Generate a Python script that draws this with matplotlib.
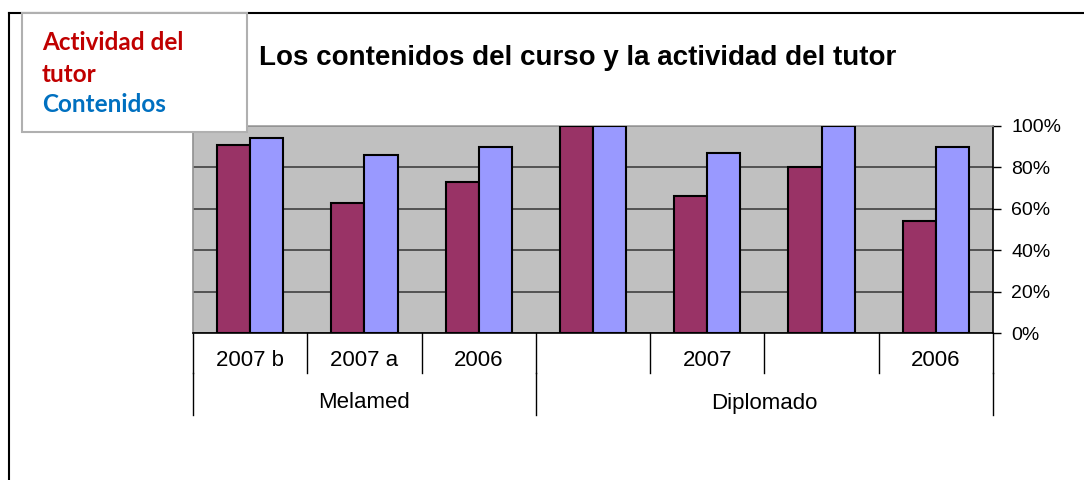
import numpy as np
import matplotlib.pyplot as plt
from matplotlib.patches import Rectangle
from matplotlib.lines import Line2D
from matplotlib.ticker import PercentFormatter

plt.rcParams['font.family'] = ['Liberation Sans', 'DejaVu Sans']

# data
years = ['2007 b', '2007 a', '2006', '', '2007', '', '2006']
programs = ['Melamed', 'Diplomado']
program_sizes = [3, 4]
actividad = [91, 63, 73, 100, 66, 80, 54]
contenidos = [94, 86, 90, 100, 87, 100, 90]

W, H = 1084, 480
fig = plt.figure(figsize=(W / 100, H / 100), dpi=100)

# plot area in pixels: left 193, right 993, top 126, bottom 333
ax = fig.add_axes([193 / W, (H - 333) / H, 800 / W, 207 / H])
ax.set_facecolor('#C0C0C0')

x = np.arange(len(years))
bw = 0.29
ax.bar(x - bw / 2, actividad, bw, color='#993366', edgecolor='black', linewidth=1.5, zorder=3)
ax.bar(x + bw / 2, contenidos, bw, color='#9999FF', edgecolor='black', linewidth=1.5, zorder=3)

ax.set_xlim(-0.5, len(years) - 0.5)
ax.set_ylim(0, 100)
ax.set_yticks(np.arange(0, 101, 20))
ax.yaxis.set_major_formatter(PercentFormatter(decimals=0))
ax.yaxis.tick_right()
ax.tick_params(axis='y', direction='out', length=6, width=1, pad=7, labelsize=14, colors='black')
ax.set_xticks([])
ax.grid(axis='y', color='#404040', linewidth=1.2, zorder=1)
ax.set_axisbelow(True)

ax.spines['left'].set_color('#909090')
ax.spines['top'].set_color('#A0A0A0')
ax.spines['right'].set_color('black')
ax.spines['bottom'].set_color('black')
for s in ax.spines.values():
    s.set_linewidth(1.2)

# multi-level category axis below the plot
trans = ax.get_xaxis_transform()
row1 = -40 / 207   # bottom of first label row (axes fraction)
row2 = -82 / 207
for b in np.arange(-0.5, len(years)):
    ax.add_line(Line2D([b, b], [0, row1], transform=trans, color='black', lw=1, clip_on=False))
for i, lab in enumerate(years):
    ax.text(i, -27 / 207, lab, transform=trans, ha='center', va='center', fontsize=16)
start = 0
edges = [-0.5]
for name, n in zip(programs, program_sizes):
    ax.text(start + (n - 1) / 2, -70 / 207, name, transform=trans, ha='center', va='center', fontsize=16)
    start += n
    edges.append(start - 0.5)
for b in edges:
    ax.add_line(Line2D([b, b], [row1, row2], transform=trans, color='black', lw=1, clip_on=False))

fig.text(578 / W, 1 - 58 / H, 'Los contenidos del curso y la actividad del tutor',
         ha='center', va='center', fontsize=20, fontweight='bold')

# outer frame
fig.add_artist(Line2D([9 / W, 1], [1 - 12.5 / H, 1 - 12.5 / H], color='black', lw=1.5))
fig.add_artist(Line2D([9 / W, 9 / W], [0, 1 - 12.5 / H], color='black', lw=1.5))

# legend text box
fig.add_artist(Rectangle((22 / W, 1 - 132 / H), 225 / W, 119 / H, facecolor='white',
                         edgecolor='#B0B0B0', lw=1.5, zorder=5))
fig.text(42 / W, 1 - 42 / H, 'Actividad del', color='#C00000', fontsize=17.5,
         fontweight='bold', family=['Lato', 'DejaVu Sans'], va='center', zorder=6)
fig.text(42 / W, 1 - 74 / H, 'tutor', color='#C00000', fontsize=17.5,
         fontweight='bold', family=['Lato', 'DejaVu Sans'], va='center', zorder=6)
fig.text(42 / W, 1 - 105 / H, 'Contenidos', color='#0070C0', fontsize=17.5,
         fontweight='bold', family=['Lato', 'DejaVu Sans'], va='center', zorder=6)

fig.savefig('out.png', dpi=100)
